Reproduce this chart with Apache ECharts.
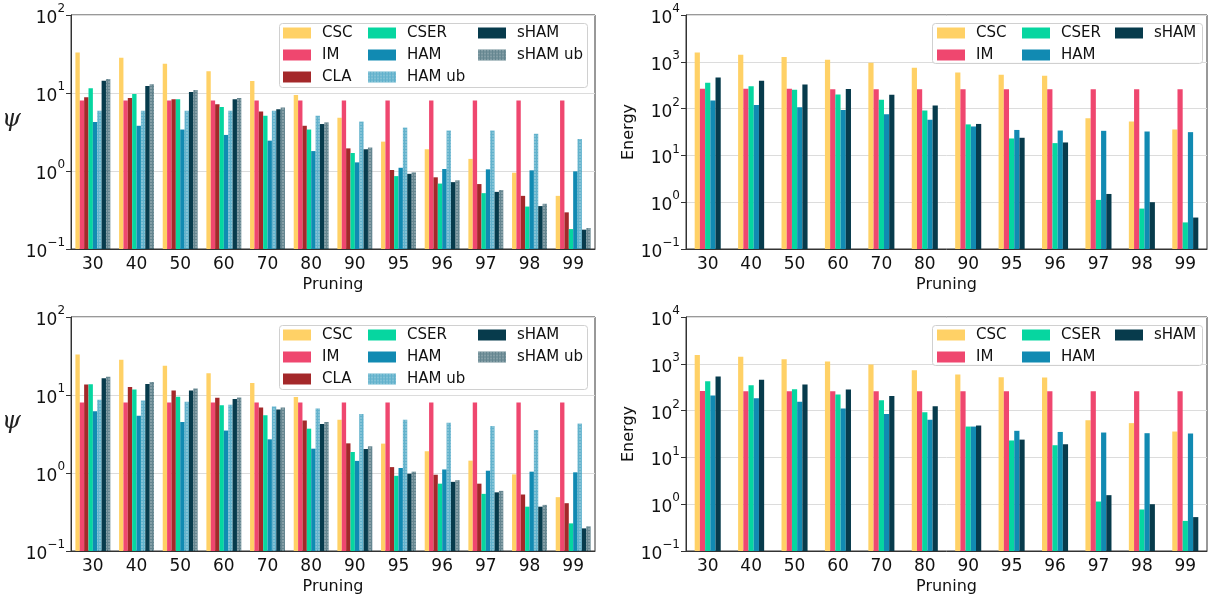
<!DOCTYPE html>
<html>
<head>
<meta charset="utf-8">
<script src="https://cdn.jsdelivr.net/npm/echarts@6/dist/echarts.min.js"></script>
<style>
  html, body { margin: 0; padding: 0; background: #fff; }
  #main { width: 1210px; height: 598px; }
</style>
</head>
<body>
<div id="main"></div>
<script>
const pruning = ['30', '40', '50', '60', '70', '80', '90', '95', '96', '97', '98', '99'];

// top left: psi
const psiA_CSC    = [33, 28.4, 23.8, 19, 14.3, 9.4, 4.8, 2.38, 1.9, 1.43, 0.95, 0.48];
const psiA_IM     = [8, 8, 8, 8, 8, 8, 8, 8, 8, 8, 8, 8];
const psiA_CLA    = [8.8, 8.6, 8.3, 7.2, 5.8, 3.8, 1.95, 1.03, 0.83, 0.68, 0.48, 0.295];
const psiA_CSER   = [11.5, 9.7, 8.3, 6.6, 5.1, 3.4, 1.7, 0.86, 0.69, 0.52, 0.35, 0.18];
const psiA_HAM    = [4.25, 3.8, 3.4, 2.9, 2.45, 1.8, 1.29, 1.1, 1.06, 1.05, 1.02, 0.99];
const psiA_HAMub  = [5.9, 5.9, 5.9, 5.9, 5.9, 5.1, 4.3, 3.6, 3.3, 3.3, 3.0, 2.57];
const psiA_sHAM   = [14.4, 12.3, 10.3, 8.3, 6.2, 4.0, 1.9, 0.92, 0.72, 0.54, 0.355, 0.177];
const psiA_sHAMub = [15.1, 12.9, 10.9, 8.6, 6.5, 4.2, 2.0, 0.96, 0.76, 0.57, 0.38, 0.186];

// bottom left: psi
const psiB_CSC    = [33, 28.4, 23.8, 19, 14.3, 9.4, 4.8, 2.38, 1.9, 1.44, 0.96, 0.49];
const psiB_IM     = [8, 8, 8, 8, 8, 8, 8, 8, 8, 8, 8, 8];
const psiB_CLA    = [13.6, 12.7, 11.4, 9.2, 6.9, 4.7, 2.4, 1.19, 0.95, 0.73, 0.53, 0.41];
const psiB_CSER   = [13.7, 11.8, 9.5, 7.4, 5.5, 3.7, 1.86, 0.92, 0.73, 0.54, 0.37, 0.226];
const psiB_HAM    = [6.2, 5.4, 4.5, 3.5, 2.7, 2.05, 1.43, 1.16, 1.11, 1.07, 1.04, 1.02];
const psiB_HAMub  = [8.7, 8.5, 8.2, 7.5, 7.1, 6.7, 5.7, 4.8, 4.4, 4.0, 3.56, 4.3];
const psiB_sHAM   = [16.4, 13.8, 11.4, 8.9, 6.5, 4.25, 2.03, 0.98, 0.77, 0.565, 0.37, 0.195];
const psiB_sHAMub = [17.2, 14.7, 12.1, 9.3, 6.9, 4.5, 2.2, 1.04, 0.81, 0.59, 0.39, 0.207];

// top right: energy
const enA_CSC  = [1585, 1415, 1260, 1105, 953, 745, 593, 528, 502, 62.5, 53, 35.8];
const enA_IM   = [265, 265, 265, 260, 260, 260, 260, 260, 260, 260, 260, 260];
const enA_CSER = [357, 302, 252, 200, 154, 91, 46, 23, 18.3, 1.12, 0.73, 0.37];
const enA_HAM  = [149, 119, 107, 93, 76, 58, 41.5, 35, 34, 33.5, 32.4, 31.4];
const enA_sHAM = [463, 393, 328, 261, 197, 117, 47, 23.8, 18.9, 1.5, 1.0, 0.47];

// bottom right: energy
const enB_CSC  = [1550, 1406, 1254, 1117, 964, 730, 590, 517, 509, 62, 54, 35.7];
const enB_IM   = [262, 260, 260, 260, 258, 258, 258, 258, 258, 258, 258, 258];
const enB_CSER = [425, 349, 287, 220, 167, 92, 45.6, 23, 18.2, 1.14, 0.77, 0.44];
const enB_HAM  = [210, 184, 154, 111, 85, 64, 45.6, 37, 35, 34, 32.9, 32.4];
const enB_sHAM = [535, 454, 361, 282, 206, 124, 48, 24, 19.1, 1.56, 1.0, 0.53];

const colors = {
  'CSC': '#ffd166',
  'IM': '#ef476f',
  'CLA': '#a4282a',
  'CSER': '#06d6a0',
  'HAM': '#118ab2',
  'HAM ub': 'rgba(17,138,178,0.66)',
  'sHAM': '#073b4c',
  'sHAM ub': 'rgba(7,59,76,0.62)'
};
const dots = {
  symbol: 'rect', symbolSize: 0.7,
  dashArrayX: [2, 1], dashArrayY: [2, 1],
  color: 'rgba(255,255,255,0.4)'
};

const grids = [
  { left: 63, top: 15, width: 532, height: 234 },
  { left: 686, top: 15, width: 521, height: 234 },
  { left: 63, top: 317, width: 532, height: 234 },
  { left: 686, top: 317, width: 521, height: 234 }
];

function logLabel(v) {
  const e = Math.round(Math.log10(v));
  return '{b|10}{s|' + (e < 0 ? '\u2212' + (-e) : e) + '}';
}

const tickFont = { fontFamily: 'DejaVu Sans', fontSize: 17, color: '#111' };

const xAxes = grids.map((g, i) => ({
  type: 'category', gridIndex: i, data: pruning,
  name: 'Pruning', nameLocation: 'middle', nameGap: 28,
  nameTextStyle: { fontFamily: 'DejaVu Sans', fontSize: 16, color: '#111' },
  axisLine: { lineStyle: { color: '#333' } },
  axisTick: { alignWithLabel: true, length: 5, lineStyle: { color: '#333' } },
  axisLabel: Object.assign({ margin: 7 }, tickFont),
  splitLine: { show: false }
}));

const yAxes = grids.map((g, i) => {
  const energy = (i % 2 === 1);
  return {
    type: 'log', gridIndex: i, logBase: 10,
    min: 0.1, max: energy ? 10000 : 100,
    splitNumber: energy ? 5 : 3,
    name: energy ? 'Energy' : '\u03c8',
    nameLocation: 'middle',
    nameRotate: energy ? 90 : 0,
    nameGap: energy ? 46 : 44,
    nameTextStyle: energy
      ? { fontFamily: 'DejaVu Sans', fontSize: 16, color: '#111' }
      : { fontFamily: 'DejaVu Serif', fontStyle: 'italic', fontSize: 24, color: '#222', verticalAlign: 'bottom' },
    axisLine: { show: true, lineStyle: { color: '#333' } },
    axisTick: { show: true, length: 5, lineStyle: { color: '#333' } },
    axisLabel: {
      margin: 6,
      formatter: logLabel,
      rich: {
        b: { fontFamily: 'DejaVu Sans', fontSize: 17, color: '#111', lineHeight: 24, verticalAlign: 'bottom' },
        s: { fontFamily: 'DejaVu Sans', fontSize: 12, color: '#111', lineHeight: 14, verticalAlign: 'top' }
      }
    },
    splitLine: { show: true, lineStyle: { color: '#dcdcdc', width: 1 } }
  };
});

// bars drawn from the axis floor (0.1) up to the value, grouped side by side
function makeSeries(gridIdx, names, arrays, frac) {
  const nBars = names.length;
  return names.map((n, k) => {
    const isUb = n.endsWith('ub');
    const itemStyle = { color: colors[n] };
    if (isUb) itemStyle.decal = dots;
    return {
      name: n, type: 'custom', xAxisIndex: gridIdx, yAxisIndex: gridIdx,
      data: arrays[k].map((v, i) => [i, v]),
      encode: { x: 0, y: 1 },
      itemStyle: itemStyle,
      emphasis: { disabled: true },
      z: 2,
      renderItem: function (params, api) {
        const i = api.value(0);
        const v = api.value(1);
        const top = api.coord([i, v]);
        const floor = api.coord([i, 0.1]);
        const band = api.size([1, 1])[0];
        const w = band * frac;
        const x0 = top[0] - w * nBars / 2 + k * w;
        const style = { fill: colors[n] };
        if (isUb) style.decal = dots;
        return {
          type: 'rect',
          shape: { x: x0, y: top[1], width: w, height: floor[1] - top[1] },
          style: style
        };
      }
    };
  });
}

const psiNames = ['CSC', 'IM', 'CLA', 'CSER', 'HAM', 'HAM ub', 'sHAM', 'sHAM ub'];
const enNames = ['CSC', 'IM', 'CSER', 'HAM', 'sHAM'];

const series = [].concat(
  makeSeries(0, psiNames, [psiA_CSC, psiA_IM, psiA_CLA, psiA_CSER, psiA_HAM, psiA_HAMub, psiA_sHAM, psiA_sHAMub], 0.1),
  makeSeries(1, enNames, [enA_CSC, enA_IM, enA_CSER, enA_HAM, enA_sHAM], 0.12),
  makeSeries(2, psiNames, [psiB_CSC, psiB_IM, psiB_CLA, psiB_CSER, psiB_HAM, psiB_HAMub, psiB_sHAM, psiB_sHAMub], 0.1),
  makeSeries(3, enNames, [enB_CSC, enB_IM, enB_CSER, enB_HAM, enB_sHAM], 0.12)
);

function legendCol(names, left, top) {
  return {
    orient: 'vertical', left: left, top: top, data: names,
    itemWidth: 28, itemHeight: 11, itemGap: 6,
    icon: 'rect', selectedMode: false, padding: 0,
    textStyle: { fontFamily: 'DejaVu Sans', fontSize: 15, color: '#111', lineHeight: 16, padding: [0, 0, 0, 6] }
  };
}

const legends = [];
const boxes = [];
[15, 317].forEach((t) => {
  const dy = t - 15;
  legends.push(legendCol(['CSC', 'IM', 'CLA'], 283, 25 + dy));
  legends.push(legendCol(['CSER', 'HAM', 'HAM ub'], 368, 25 + dy));
  legends.push(legendCol(['sHAM', 'sHAM ub'], 478, 25 + dy));
  legends.push(legendCol(['CSC', 'IM'], 937, 25 + dy));
  legends.push(legendCol(['CSER', 'HAM'], 1022, 25 + dy));
  legends.push(legendCol(['sHAM'], 1115, 25 + dy));
  boxes.push({ type: 'rect', left: 279, top: 23 + dy, z: 3,
    shape: { width: 308, height: 64, r: 3 },
    style: { fill: 'rgba(255,255,255,0.85)', stroke: '#d0d0d0', lineWidth: 1 } });
  boxes.push({ type: 'rect', left: 932, top: 23 + dy, z: 3,
    shape: { width: 270, height: 40, r: 3 },
    style: { fill: 'rgba(255,255,255,0.85)', stroke: '#d0d0d0', lineWidth: 1 } });
});

const chart = echarts.init(document.getElementById('main'));
chart.setOption({
  animation: false,
  backgroundColor: '#fff',
  grid: grids.map(g => Object.assign({ show: true, borderColor: '#333', borderWidth: 1, backgroundColor: 'transparent' }, g)),
  xAxis: xAxes,
  yAxis: yAxes,
  legend: legends,
  graphic: boxes,
  series: series
});
</script>
</body>
</html>
